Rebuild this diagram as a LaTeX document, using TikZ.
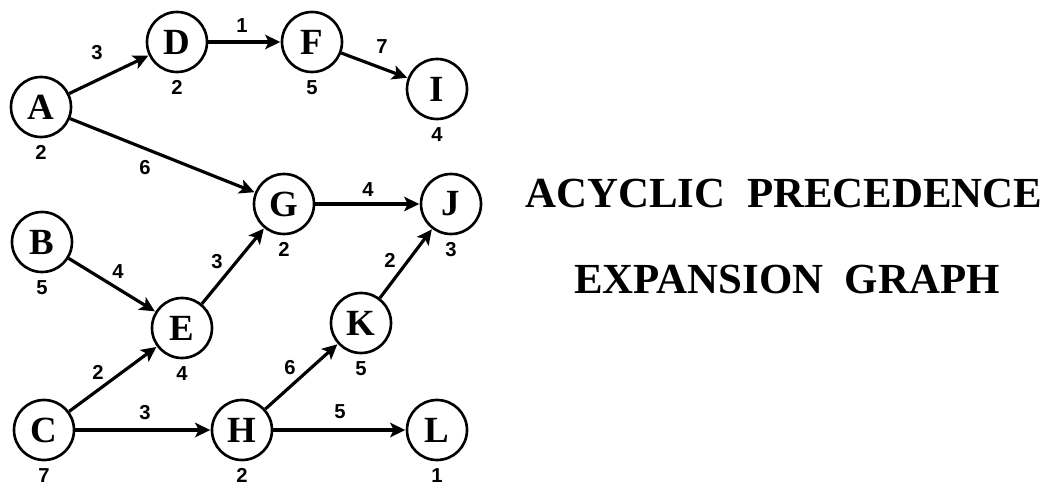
\documentclass[tikz,border=0pt]{standalone}
\usepackage{fontspec}
\setmainfont{Liberation Serif}
\newfontfamily\numfont{Liberation Sans}
\usetikzlibrary{positioning,arrows.meta}
\definecolor{ink}{gray}{0.0}

\begin{document}
\begin{tikzpicture}[line width=1.5pt,
   act/.style={circle, draw=ink, fill=white, minimum size=12mm, inner sep=0pt, font=\fontsize{21}{21}\selectfont\bfseries},
   arr/.style={draw=ink, line width=1.8pt, -{Stealth[length=3mm, width=2.9mm, inset=0.7mm]}, shorten >=0.3pt},
   wt/.style={inner sep=0pt, font=\numfont\fontsize{11.5}{11.5}\selectfont\bfseries},
   ttl/.style={anchor=base, font=\fontsize{24.4}{24.4}\selectfont\bfseries}]
  \useasboundingbox (0,0) rectangle (21.02,9.72);
  % activities (top row)
  \node[act](A) at (0.82,7.58){A}; \node[act](D) at (3.54,8.88){D};
  \node[act](F) at (6.24,8.88){F}; \node[act](I) at (8.74,7.94){I};
  % middle
  \node[act](G) at (5.68,5.64){G}; \node[act](J) at (9.02,5.64){J};
  \node[act](B) at (0.84,4.88){B}; \node[act](E) at (3.64,3.16){E};
  \node[act](K) at (7.22,3.26){K};
  % bottom row
  \node[act](C) at (0.88,1.12){C}; \node[act](H) at (4.84,1.12){H};
  \node[act](L) at (8.74,1.12){L};
  % durations under the activities
  \node[wt, below=1.2mm of A](wA){2}; \node[wt, below=1.2mm of D](wD){2};
  \node[wt, below=1.2mm of F](wF){5}; \node[wt, below=1.2mm of I](wI){4};
  \node[wt, below=1.2mm of G](wG){2}; \node[wt, below=1.2mm of J](wJ){3};
  \node[wt, below=1.2mm of B](wB){5}; \node[wt, below=1.2mm of E](wE){4};
  \node[wt, below=1.2mm of K](wK){5}; \node[wt, below=1.2mm of C](wC){7};
  \node[wt, below=1.2mm of H](wH){2}; \node[wt, below=1.2mm of L](wL){1};
  % precedence arcs
  \draw[arr] (A)--(D); \draw[arr] (D)--(F); \draw[arr] (F)--(I);
  \draw[arr] (A)--(G); \draw[arr] (G)--(J); \draw[arr] (B)--(E);
  \draw[arr] (E)--(G); \draw[arr] (K)--(J); \draw[arr] (C)--(E);
  \draw[arr] (H)--(K); \draw[arr] (C)--(H); \draw[arr] (H)--(L);
  % arc lags
  \node[wt](lAD) at (1.94,8.66){3}; \node[wt](lDF) at (4.84,9.20){1};
  \node[wt](lFI) at (7.64,8.78){7}; \node[wt](lAG) at (2.90,6.36){6};
  \node[wt](lGJ) at (7.36,5.92){4}; \node[wt](lBE) at (2.36,4.28){4};
  \node[wt](lEG) at (4.34,4.48){3}; \node[wt](lKJ) at (7.80,4.52){2};
  \node[wt](lCE) at (1.96,2.28){2}; \node[wt](lHK) at (5.80,2.36){6};
  \node[wt](lCH) at (2.90,1.46){3}; \node[wt](lHL) at (6.80,1.48){5};
  % title
  \node[ttl](t1) at (15.68,5.58){ACYCLIC\ \ PRECEDENCE};
  \node[ttl](t2) at (15.74,3.86){EXPANSION\ \ GRAPH};
\end{tikzpicture}
\end{document}
